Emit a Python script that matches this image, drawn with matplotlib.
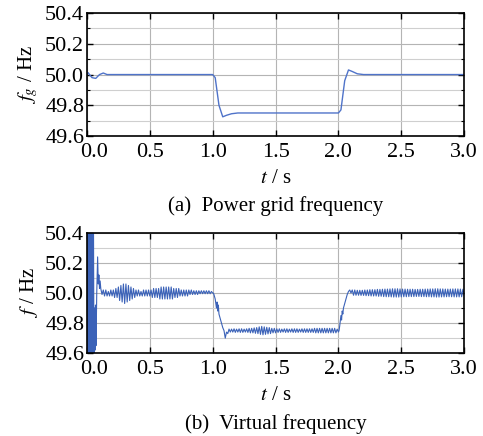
import matplotlib
matplotlib.use("Agg")
import matplotlib.pyplot as plt
from matplotlib.ticker import MultipleLocator
from matplotlib.transforms import ScaledTranslation

plt.rcParams['font.family'] = ['Liberation Serif', 'DejaVu Serif']
plt.rcParams['mathtext.fontset'] = 'stix'

# (a) power grid frequency
t_grid = [0.0, 0.01, 0.02, 0.04, 0.07, 0.10, 0.13, 0.16, 0.20, 1.00, 1.02,
          1.05, 1.08, 1.11, 1.15, 1.20, 1.30, 2.00, 2.02, 2.05, 2.08, 2.11,
          2.15, 2.20, 3.00]
f_grid = [50.0, 50.012, 50.0, 49.98, 49.975, 50.0, 50.01, 50.0, 50.0, 50.0,
          49.98, 49.80, 49.725, 49.735, 49.745, 49.75, 49.75, 49.75, 49.77,
          49.96, 50.03, 50.02, 50.005, 50.0, 50.0]

# (b) virtual frequency: start-up transient
t_start = [0.000, 0.004, 0.008, 0.012, 0.016, 0.020, 0.024, 0.028, 0.032,
           0.036, 0.040, 0.044, 0.048, 0.052, 0.056, 0.060, 0.064, 0.068,
           0.072, 0.078, 0.085, 0.090, 0.095, 0.100, 0.105]
f_start = [50.0, 50.7, 49.3, 50.7, 49.3, 50.7, 49.3, 50.7, 49.3, 50.7, 49.3,
           50.6, 49.4, 50.5, 49.45, 49.9, 49.62, 49.92, 49.65, 50.0, 50.24,
           50.06, 50.12, 50.03, 50.08]

# settled at 50 Hz, 0.11 s .. 1.00 s, every 0.01 s
f_pre = [50.03, 49.99, 50.02, 49.98, 50.02, 49.98, 50.01, 49.98, 50.02, 49.98,
         50.02, 49.97, 50.03, 49.97, 50.04, 49.95, 50.05, 49.94, 50.06, 49.93,
         50.06, 49.94, 50.05, 49.95, 50.04, 49.96, 50.03, 49.97, 50.02, 49.98,
         50.02, 49.98, 50.01, 49.98, 50.02, 49.98, 50.02, 49.98, 50.02, 49.98,
         50.02, 49.97, 50.03, 49.97, 50.03, 49.97, 50.03, 49.96, 50.04, 49.96,
         50.04, 49.96, 50.04, 49.96, 50.04, 49.96, 50.04, 49.96, 50.03, 49.97,
         50.03, 49.97, 50.03, 49.98, 50.02, 49.98, 50.02, 49.98, 50.02, 49.98,
         50.02, 49.99, 50.02, 49.99, 50.015, 49.99, 50.015, 49.99, 50.015, 49.995,
         50.015, 49.995, 50.015, 49.995, 50.015, 49.995, 50.015, 49.995, 50.01, 50.0]

# drop 1.00 s .. 1.12 s
t_drop = [1.005, 1.01, 1.02, 1.03, 1.035, 1.04, 1.045, 1.05, 1.06, 1.07,
          1.08, 1.09, 1.10, 1.11, 1.12]
f_drop = [50.0, 49.99, 49.96, 49.90, 49.94, 49.88, 49.92, 49.86, 49.83, 49.80,
          49.77, 49.75, 49.70, 49.74, 49.73]

# settled low, 1.13 s .. 2.00 s, every 0.01 s
f_low = [49.76, 49.74, 49.76, 49.74, 49.762, 49.738, 49.76, 49.74, 49.762, 49.738,
         49.762, 49.738, 49.76, 49.74, 49.762, 49.738, 49.765, 49.735, 49.765, 49.735,
         49.768, 49.732, 49.77, 49.73, 49.775, 49.725, 49.778, 49.722, 49.775, 49.725,
         49.772, 49.728, 49.77, 49.73, 49.765, 49.735, 49.765, 49.735, 49.762, 49.738,
         49.762, 49.738, 49.76, 49.74, 49.762, 49.738, 49.762, 49.738, 49.76, 49.74,
         49.762, 49.738, 49.762, 49.738, 49.762, 49.738, 49.76, 49.74, 49.762, 49.738,
         49.762, 49.738, 49.762, 49.738, 49.762, 49.738, 49.762, 49.738, 49.765, 49.735,
         49.765, 49.735, 49.765, 49.735, 49.765, 49.735, 49.765, 49.735, 49.765, 49.735,
         49.765, 49.735, 49.765, 49.735, 49.765, 49.735, 49.76, 49.74]

# rise 2.00 s .. 2.10 s
t_rise = [2.005, 2.01, 2.02, 2.025, 2.03, 2.035, 2.04, 2.05, 2.06, 2.07, 2.08,
          2.09, 2.10]
f_rise = [49.75, 49.78, 49.85, 49.82, 49.88, 49.86, 49.90, 49.93, 49.96, 49.99,
          50.01, 50.02, 50.0]

# settled at 50 Hz again, 2.11 s .. 3.00 s, every 0.01 s
f_post = [50.02, 49.985, 50.02, 49.985, 50.018, 49.985, 50.018, 49.984, 50.018, 49.984,
          50.02, 49.982, 50.02, 49.982, 50.022, 49.98, 50.022, 49.98, 50.022, 49.98,
          50.024, 49.978, 50.024, 49.978, 50.025, 49.976, 50.026, 49.975, 50.026, 49.975,
          50.027, 49.974, 50.028, 49.973, 50.028, 49.973, 50.028, 49.973, 50.027, 49.974,
          50.026, 49.975, 50.026, 49.975, 50.025, 49.976, 50.025, 49.976, 50.025, 49.976,
          50.024, 49.977, 50.024, 49.977, 50.025, 49.976, 50.025, 49.976, 50.026, 49.975,
          50.026, 49.975, 50.027, 49.974, 50.027, 49.974, 50.028, 49.973, 50.028, 49.973,
          50.027, 49.974, 50.027, 49.974, 50.026, 49.975, 50.026, 49.975, 50.026, 49.975,
          50.027, 49.974, 50.027, 49.974, 50.027, 49.974, 50.026, 49.975, 50.025, 49.985]

t_pre = [round(0.11 + 0.01 * i, 3) for i in range(len(f_pre))]
t_low = [round(1.13 + 0.01 * i, 3) for i in range(len(f_low))]
t_post = [round(2.11 + 0.01 * i, 3) for i in range(len(f_post))]
t_virt = t_start + t_pre + t_drop + t_low + t_rise + t_post
f_virt = f_start + f_pre + f_drop + f_low + f_rise + f_post

x_ticks = [0.0, 0.5, 1.0, 1.5, 2.0, 2.5, 3.0]
y_ticks = [49.6, 49.8, 50.0, 50.2, 50.4]

fig = plt.figure(figsize=(4.83, 4.36), dpi=100)
ax1 = fig.add_axes([0.180, 0.688, 0.781, 0.282])
ax2 = fig.add_axes([0.180, 0.190, 0.781, 0.276])


def style(ax, ylabel, caption, cap_y):
    ax.set_xlim(0, 3.0)
    ax.set_ylim(49.6, 50.4)
    ax.set_xticks(x_ticks)
    ax.set_xticklabels(['%.1f' % v for v in x_ticks])
    ax.set_yticks(y_ticks)
    ax.set_yticklabels(['%.1f' % v for v in y_ticks])
    ax.yaxis.set_minor_locator(MultipleLocator(0.1))
    ax.grid(True, which='major', color='#b4b4b4', lw=0.8)
    ax.grid(True, which='minor', axis='y', color='#cfcfcf', lw=0.8)
    ax.set_axisbelow(True)
    ax.tick_params(which='both', direction='in', top=True, right=True,
                   labelsize=16)
    ax.tick_params(axis='x', pad=5)
    ax.tick_params(axis='y', pad=2)
    ax.tick_params(which='major', length=4, width=1)
    ax.tick_params(which='minor', length=2.5, width=0.8)
    for s in ax.spines.values():
        s.set_linewidth(1.2)
    # first x label nudged right, clear of the "49.6"
    lab0 = ax.get_xticklabels()[0]
    lab0.set_transform(lab0.get_transform()
                       + ScaledTranslation(0.07, 0, fig.dpi_scale_trans))
    ax.set_ylabel(ylabel, fontsize=15, labelpad=4)
    ax.set_xlabel('$t$ / s', fontsize=15, labelpad=5)
    ax.text(0.5, cap_y, caption, transform=ax.transAxes, ha='center',
            va='center', fontsize=15)


ax1.plot(t_grid, f_grid, color='#4f73c9', lw=1.0)
style(ax1, '$f_g$ / Hz', '(a)  Power grid frequency', -0.57)

ax2.plot(t_virt, f_virt, color='#3b62b8', lw=0.8)
style(ax2, '$f$ / Hz', '(b)  Virtual frequency', -0.585)

fig.savefig('out.png', dpi=100)
